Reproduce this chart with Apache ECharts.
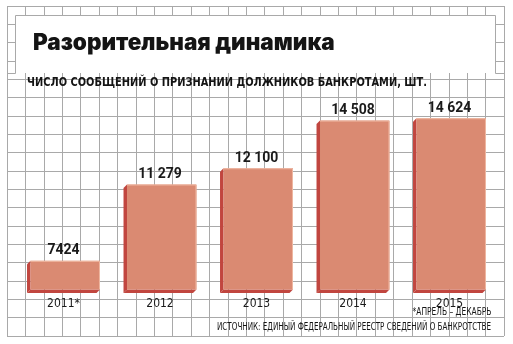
<!DOCTYPE html>
<html>
<head>
<meta charset="utf-8">
<style>
  html, body { margin: 0; padding: 0; background: #fff; }
  #chart { width: 513px; height: 344px; }
</style>
<script src="https://cdn.jsdelivr.net/npm/echarts@6/dist/echarts.min.js"></script>
</head>
<body>
<div id="chart"></div>
<script>
// Bankruptcy notices per year
const years = ['2011*', '2012', '2013', '2014', '2015'];
const notices = [7424, 11279, 12100, 14508, 14624];

const titleText = 'Разорительная динамика';
const subtitleText = 'ЧИСЛО СООБЩЕНИЙ О ПРИЗНАНИИ ДОЛЖНИКОВ БАНКРОТАМИ, ШТ.';
const footnoteText = '*АПРЕЛЬ – ДЕКАБРЬ';
const sourceText = 'ИСТОЧНИК: ЕДИНЫЙ ФЕДЕРАЛЬНЫЙ РЕЕСТР СВЕДЕНИЙ О БАНКРОТСТВЕ';

const VALUE_MIN = 5800;
const VALUE_MAX = 16000;

const NARROW = '"Liberation Sans Narrow", "DejaVu Sans Condensed", "Roboto", sans-serif';
const GRID_GREY = '#a9a9a9';
const FACE = '#da8a72';
const SIDE = '#c1463f';
const EDGE = '#efb8a2';

const SUBTITLE_FONT = 'bold 12px ' + NARROW;
const FOOTNOTE_FONT = '10px ' + NARROW;
const SOURCE_FONT = '10px ' + NARROW;

function formatNumber(v) {
  const s = String(v);
  return v >= 10000 ? s.replace(/\B(?=(\d{3})+(?!\d))/g, ' ') : s;
}

// horizontal squeeze so condensed captions fit their set width
const measureCtx = document.createElement('canvas').getContext('2d');
function squeeze(text, font, width) {
  measureCtx.font = font;
  const w = measureCtx.measureText(text).width;
  return w > 0 ? Math.min(1, width / w) : 1;
}

const chart = echarts.init(document.getElementById('chart'), null, { renderer: 'canvas' });

const hiddenAxis = {
  axisLine: { show: false },
  axisTick: { show: false },
  axisLabel: { show: false }
};

chart.setOption({
  animation: false,
  backgroundColor: '#ffffff',
  grid: [
    // squared paper lattice behind everything
    { left: 7, top: 6, width: 497, height: 330 },
    // bar area
    { left: 15.25, top: 91, width: 482.5, height: 202 }
  ],
  xAxis: [
    Object.assign({
      type: 'value', gridIndex: 0, min: 0, max: 27, interval: 1,
      splitLine: { show: true, lineStyle: { color: GRID_GREY, width: 1 } }
    }, hiddenAxis),
    {
      type: 'category', gridIndex: 1, data: years,
      axisLine: { show: false },
      axisTick: { show: false },
      splitLine: { show: false },
      axisLabel: { margin: 5, color: '#1a1a1a', fontFamily: NARROW, fontSize: 12 }
    }
  ],
  yAxis: [
    Object.assign({
      type: 'value', gridIndex: 0, min: 0, max: 18, interval: 1,
      splitLine: { show: true, lineStyle: { color: GRID_GREY, width: 1 } }
    }, hiddenAxis),
    { type: 'value', gridIndex: 1, min: VALUE_MIN, max: VALUE_MAX, show: false, splitLine: { show: false } }
  ],
  series: [{
    type: 'custom',
    xAxisIndex: 1,
    yAxisIndex: 1,
    data: notices.map((v, i) => [i, v]),
    z: 5,
    // bar drawn as a block with its left and bottom faces showing
    renderItem(params, api) {
      const topPt = api.coord([api.value(0), api.value(1)]);
      const basePt = api.coord([api.value(0), VALUE_MIN]);
      const band = api.size([1, 0])[0];
      const w = band * 0.756;
      const d = 3.5;
      const xL = topPt[0] - w / 2;
      const xR = topPt[0] + w / 2;
      const top = topPt[1];
      const bot = basePt[1];
      return {
        type: 'group',
        children: [
          { type: 'polygon', shape: { points: [[xL + d, top], [xL, top + d], [xL, bot], [xL + d, bot - d]] }, style: { fill: SIDE } },
          { type: 'polygon', shape: { points: [[xL, bot], [xR - d, bot], [xR, bot - d], [xL + d, bot - d]] }, style: { fill: SIDE } },
          { type: 'rect', shape: { x: xL + d, y: top, width: xR - xL - d, height: bot - d - top }, style: { fill: FACE } },
          { type: 'polyline', shape: { points: [[xL + d, top + 0.5], [xR - 0.5, top + 0.5], [xR - 0.5, bot - d]] },
            style: { stroke: EDGE, fill: null, lineWidth: 1 } },
          { type: 'text', style: { text: formatNumber(api.value(1)), x: topPt[0], y: top - 10,
              align: 'center', verticalAlign: 'middle', fill: '#1a1a1a',
              font: 'bold 14px Roboto, "Liberation Sans", sans-serif' } }
        ]
      };
    }
  }],
  graphic: [
    // white title plate over the lattice
    { type: 'rect', z: 50, shape: { x: 15, y: 15, width: 480, height: 58 }, style: { fill: '#ffffff' } },
    { type: 'polyline', z: 51,
      shape: { points: [[7, 73.5], [15.5, 73.5], [15.5, 15.5], [495.5, 15.5], [495.5, 73.5], [504, 73.5]] },
      style: { stroke: GRID_GREY, fill: null, lineWidth: 1 } },
    { type: 'text', z: 52, x: 33, y: 43.5,
      style: { text: titleText, fill: '#141414', verticalAlign: 'middle',
        font: '900 22.5px Inter, Lato, "DejaVu Sans", sans-serif' } },
    { type: 'text', z: 52, x: 27, y: 82.5,
      scaleX: squeeze(subtitleText, SUBTITLE_FONT, 400),
      style: { text: subtitleText, fill: '#141414', verticalAlign: 'middle', font: SUBTITLE_FONT } },
    { type: 'text', z: 52, x: 452, y: 312,
      scaleX: squeeze(footnoteText, FOOTNOTE_FONT, 79),
      style: { text: footnoteText, fill: '#141414', align: 'center', verticalAlign: 'middle', font: FOOTNOTE_FONT } },
    { type: 'text', z: 52, x: 491, y: 327,
      scaleX: squeeze(sourceText, SOURCE_FONT, 274),
      style: { text: sourceText, fill: '#141414', align: 'right', verticalAlign: 'middle', font: SOURCE_FONT } }
  ]
});
</script>
</body>
</html>
